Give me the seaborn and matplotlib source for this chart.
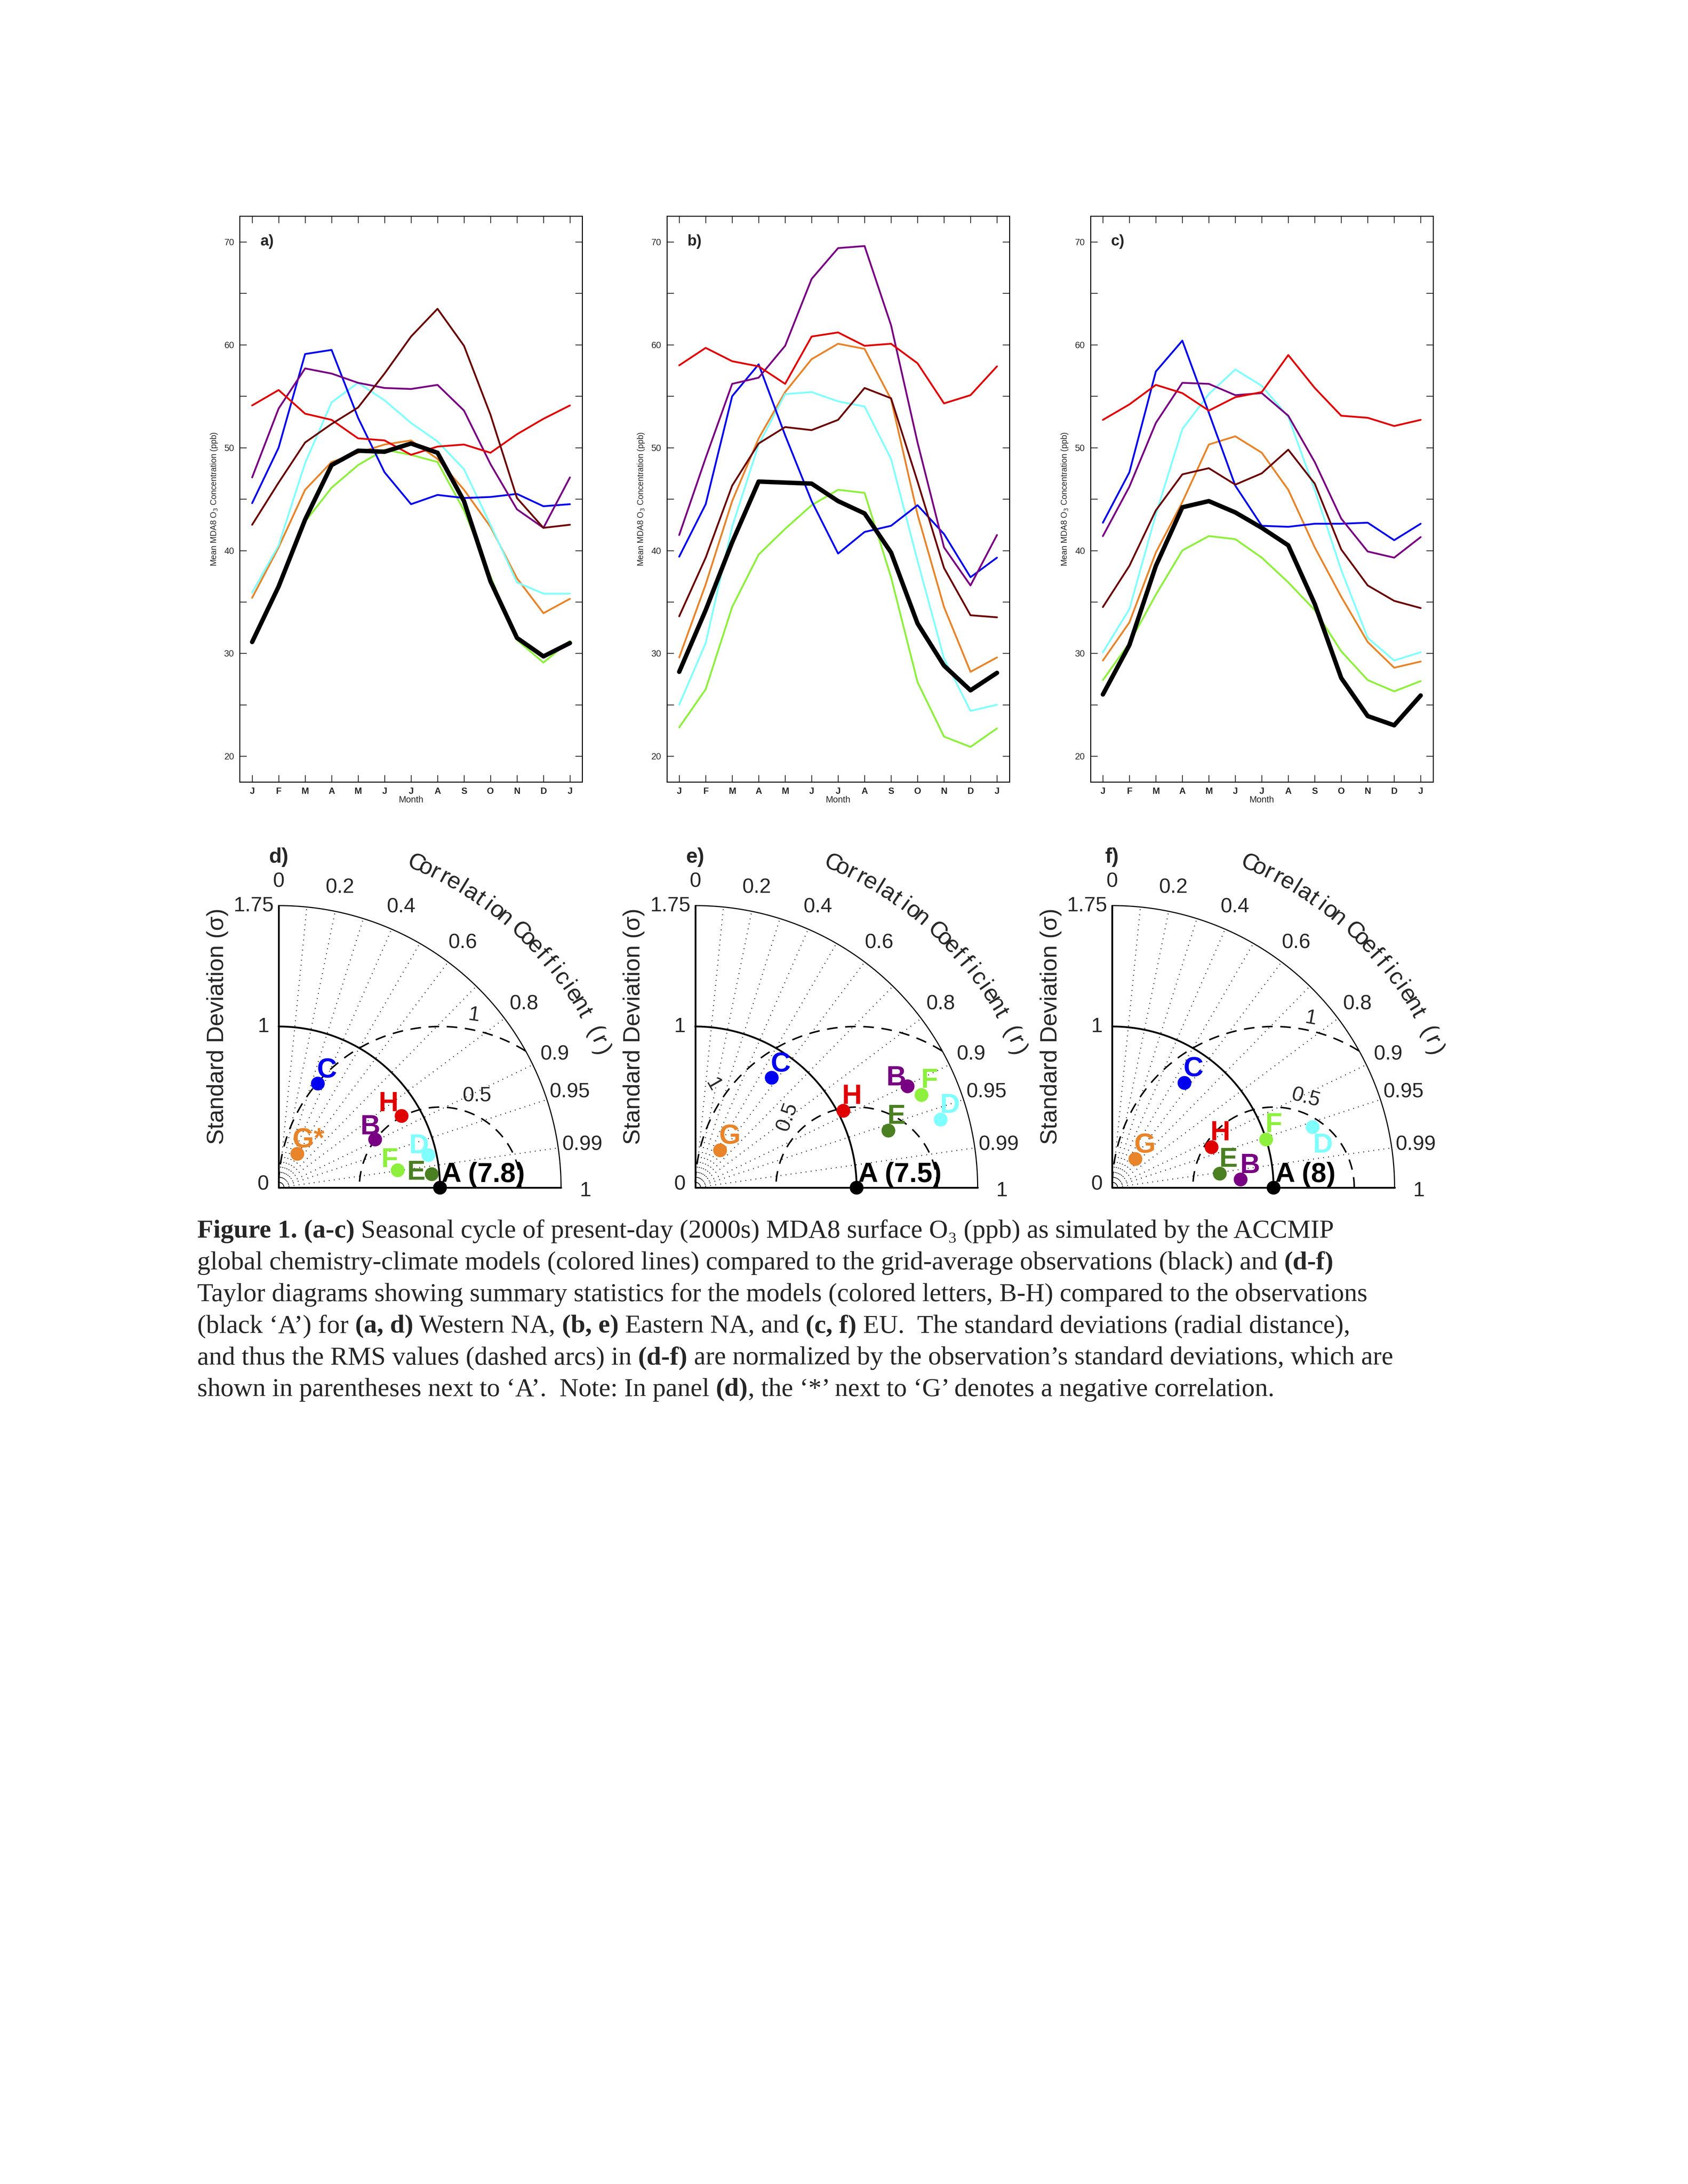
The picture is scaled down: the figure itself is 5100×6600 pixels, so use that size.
import numpy as np
import pandas as pd
import matplotlib
matplotlib.use("Agg")
import matplotlib.pyplot as plt
import seaborn as sns

sns.set_style("white")
plt.rcParams['font.family'] = ['Liberation Sans', 'DejaVu Sans']

months = ["J", "F", "M", "A", "M", "J", "J", "A", "S", "O", "N", "D", "J"]
models = ["OBS", "F", "G", "D", "C", "B", "H", "E"]
colors = {"OBS": "black", "F": "#8CF03C", "G": "#E8842A", "D": "#80FFFF",
          "C": "#0000F0", "B": "#780082", "H": "#E00000", "E": "#6A0000"}

west = {
    "OBS": [31.1, 36.5, 43, 48.3, 49.7, 49.6, 50.4, 49.5, 44.8, 37, 31.5, 29.7, 31],
    "F": [31.3, 36.2, 42.8, 46.1, 48.3, 49.8, 49.3, 48.6, 43.9, 37.5, 31.3, 29.1, 31.2],
    "G": [35.4, 40.3, 45.9, 48.6, 49.5, 50.3, 50.7, 48.9, 45.9, 42.3, 37.3, 33.9, 35.3],
    "D": [35.9, 40.5, 48.5, 54.4, 56.3, 54.6, 52.4, 50.6, 47.9, 42.5, 36.9, 35.8, 35.8],
    "C": [44.6, 50, 59.1, 59.5, 52.9, 47.6, 44.5, 45.4, 45.1, 45.2, 45.5, 44.3, 44.5],
    "B": [47.1, 53.8, 57.7, 57.2, 56.3, 55.8, 55.7, 56.1, 53.6, 48.4, 44, 42.2, 47.1],
    "H": [54.1, 55.6, 53.3, 52.7, 50.9, 50.7, 49.3, 50.1, 50.3, 49.5, 51.3, 52.8, 54.1],
    "E": [42.5, 46.6, 50.5, 52.3, 53.9, 57.2, 60.8, 63.5, 59.9, 53.2, 45.1, 42.2, 42.5],
}
east = {
    "OBS": [28.2, 34.2, 40.8, 46.7, 46.6, 46.5, 44.8, 43.6, 39.8, 32.9, 28.8, 26.4, 28.1],
    "F": [22.8, 26.5, 34.5, 39.6, 42.1, 44.4, 45.9, 45.6, 37.4, 27.2, 21.9, 20.9, 22.7],
    "G": [29.6, 36.7, 44.8, 50.9, 55.4, 58.6, 60.1, 59.6, 54.7, 43.5, 34.5, 28.2, 29.6],
    "D": [25, 31, 42.3, 50.3, 55.2, 55.4, 54.5, 54, 48.9, 39, 29.5, 24.4, 25],
    "C": [39.4, 44.5, 55, 58.1, 51.2, 44.8, 39.7, 41.8, 42.4, 44.4, 41.6, 37.4, 39.3],
    "B": [41.5, 49, 56.2, 56.8, 59.9, 66.4, 69.4, 69.6, 61.9, 50.5, 40.3, 36.6, 41.5],
    "H": [58, 59.7, 58.4, 57.9, 56.2, 60.8, 61.2, 59.9, 60.1, 58.2, 54.3, 55.1, 57.9],
    "E": [33.6, 39.3, 46.3, 50.4, 52, 51.7, 52.7, 55.8, 54.8, 46.7, 38.3, 33.7, 33.5],
}
europe = {
    "OBS": [26, 30.8, 38.5, 44.2, 44.8, 43.7, 42.2, 40.5, 34.8, 27.6, 23.9, 23, 25.9],
    "F": [27.4, 31, 35.7, 40, 41.4, 41.1, 39.3, 36.9, 34.2, 30.2, 27.4, 26.3, 27.3],
    "G": [29.3, 33, 39.8, 44.7, 50.3, 51.1, 49.5, 45.9, 40.3, 35.5, 31.1, 28.6, 29.2],
    "D": [30.1, 34.3, 43.5, 51.8, 55.2, 57.6, 56, 53, 45.9, 38.1, 31.5, 29.3, 30.1],
    "C": [42.7, 47.6, 57.4, 60.4, 53.4, 46.3, 42.4, 42.3, 42.6, 42.6, 42.7, 41, 42.6],
    "B": [41.4, 46.2, 52.4, 56.3, 56.2, 55.1, 55.3, 53.1, 48.6, 43.1, 39.9, 39.3, 41.3],
    "H": [52.7, 54.2, 56.1, 55.3, 53.6, 54.9, 55.4, 59, 55.8, 53.1, 52.9, 52.1, 52.7],
    "E": [34.5, 38.5, 43.9, 47.4, 48, 46.4, 47.5, 49.8, 46.5, 40.1, 36.6, 35.1, 34.4],
}

# Taylor diagram points: normalized (x, y) = (sigma*r, sigma*sqrt(1-r^2))
taylor_letters = ["B", "C", "D", "E", "F", "G", "H"]
taylor_colors = {"A": "black", "B": "#780082", "C": "#0000F0", "D": "#80FFFF",
                 "E": "#4A7F22", "F": "#8CF03C", "G": "#E8842A", "H": "#E00000"}
d_x = [0.598, 0.243, 0.928, 0.949, 0.738, 0.116, 0.762]
d_y = [0.299, 0.646, 0.202, 0.084, 0.108, 0.210, 0.445]
e_x = [1.316, 0.474, 1.521, 1.197, 1.402, 0.154, 0.918]
e_y = [0.629, 0.682, 0.422, 0.354, 0.575, 0.232, 0.477]
f_x = [0.796, 0.448, 1.242, 0.667, 0.954, 0.144, 0.616]
f_y = [0.051, 0.650, 0.376, 0.087, 0.299, 0.178, 0.251]
obs_sd = ["7.8", "7.5", "8"]
g_suffix = ["*", "", ""]

fig = plt.figure(figsize=(17, 22), dpi=300)

# ---------------- line panels ----------------
line_lefts = [0.142, 0.395, 0.646]
for i, (data, lab) in enumerate(zip([west, east, europe], ["a)", "b)", "c)"])):
    ax = fig.add_axes([line_lefts[i], 0.642, 0.203, 0.259])
    rows = []
    for m in models:
        for k, v in enumerate(data[m]):
            rows.append({"month": k, "value": v, "model": m})
    df = pd.DataFrame(rows)
    sns.lineplot(data=df[df.model != "OBS"], x="month", y="value", hue="model",
                 palette={m: colors[m] for m in models if m != "OBS"},
                 estimator=None, sort=False, linewidth=1.3, legend=False, ax=ax)
    sns.lineplot(data=df[df.model == "OBS"], x="month", y="value", color="black",
                 estimator=None, sort=False, linewidth=3.2, legend=False, ax=ax)
    ax.set_xlim(-0.47, 12.47)
    ax.set_ylim(17.5, 72.5)
    ax.set_xticks(range(13))
    ax.set_xticklabels(months, fontsize=6.5, fontweight="bold")
    ax.set_yticks([20, 30, 40, 50, 60, 70])
    ax.set_yticks([25, 35, 45, 55, 65], minor=True)
    ax.set_yticklabels(["20", "30", "40", "50", "60", "70"], fontsize=6.5)
    ax.tick_params(axis="both", which="both", direction="in", top=True, right=True,
                   length=5, width=0.6, bottom=True, left=True, pad=4)
    ax.set_xlabel("Month", fontsize=6.5, labelpad=0)
    ax.set_ylabel("Mean MDA8 O$_3$ Concentration (ppb)", fontsize=6)
    for s in ax.spines.values():
        s.set_linewidth(0.7)
        s.set_color("black")
    ax.text(0.06, 0.955, lab, transform=ax.transAxes, fontsize=11,
            fontweight="bold", va="center", ha="left")

# ---------------- Taylor diagrams ----------------
t_lefts = [0.1077, 0.3545, 0.6015]
corr_ticks = [0.0, 0.1, 0.2, 0.3, 0.4, 0.5, 0.6, 0.7, 0.8, 0.9, 0.95, 0.99]
corr_labels = [0.0, 0.2, 0.4, 0.6, 0.8, 0.9, 0.95, 0.99]
offsets = [
    {"B": (-0.03, 0.077), "C": (0.056, 0.084), "D": (-0.06, 0.058), "E": (-0.097, 0.01),
     "F": (-0.05, 0.065), "G": (0.07, 0.087), "H": (-0.082, 0.075)},
    {"B": (-0.072, 0.05), "C": (0.056, 0.084), "D": (0.056, 0.087), "E": (0.05, 0.087),
     "F": (0.048, 0.09), "G": (0.06, 0.087), "H": (0.053, 0.087)},
    {"B": (0.058, 0.084), "C": (0.056, 0.087), "D": (0.063, -0.113), "E": (0.053, 0.087),
     "F": (0.046, 0.091), "G": (0.058, 0.085), "H": (0.053, 0.088)},
]
rms_label_pos = [
    [(1.21, 1.07, -8, "1"), (1.23, 0.57, 0, "0.5")],
    [(0.11, 0.64, -60, "1"), (0.57, 0.44, 70, "0.5")],
    [(1.23, 1.05, -10, "1"), (1.2, 0.556, -15, "0.5")],
]
panel_letters = ["d)", "e)", "f)"]
tx = [d_x, e_x, f_x]
ty = [d_y, e_y, f_y]

for i in range(3):
    ax = fig.add_axes([t_lefts[i], 0.4488, 0.2677, 0.155])
    th = np.linspace(0, np.pi / 2, 400)
    ax.plot(1.75 * np.cos(th), 1.75 * np.sin(th), color="black", lw=0.8)
    ax.plot(np.cos(th), np.sin(th), color="black", lw=1.3)
    ax.plot([0, 0], [0, 1.75], color="black", lw=1.3)
    ax.plot([0, 1.75], [0, 0], color="black", lw=1.3)
    for c in corr_ticks[1:]:
        a = np.arccos(c)
        ax.plot([0, 1.75 * np.cos(a)], [0, 1.75 * np.sin(a)], color="black",
                lw=0.8, ls=(0, (0.6, 4)))
    for c in corr_labels:
        a = np.arccos(c)
        ax.text(1.9 * np.cos(a), 1.9 * np.sin(a), f"{c:g}", fontsize=15,
                ha="center", va="center")
    ax.text(1.9, -0.02, "1", fontsize=15, ha="center", va="center")
    ax.text(-0.03, 1.75, "1.75", fontsize=15, ha="right", va="center")
    ax.text(-0.06, 1.0, "1", fontsize=15, ha="right", va="center")
    ax.text(-0.06, 0.02, "0", fontsize=15, ha="right", va="center")
    ax.text(-0.38, 1.0, "Standard Deviation (σ)", fontsize=17, rotation=90,
            ha="center", va="center")
    for rr in [0.5, 1.0]:
        t = np.linspace(0, np.pi, 600)
        xs, ys = 1 + rr * np.cos(t), rr * np.sin(t)
        ok = (xs ** 2 + ys ** 2 <= 1.75 ** 2) & (xs >= 0)
        ax.plot(xs[ok], ys[ok], color="black", lw=1.1, ls=(0, (7, 5)))
    for (lx, ly, rot, s) in rms_label_pos[i]:
        ax.text(lx, ly, s, fontsize=15, rotation=rot, ha="center", va="center")
    title = "Correlation Coefficient (r)"
    angs = np.linspace(np.deg2rad(67), np.deg2rad(23), len(title))
    for ch, a in zip(title, angs):
        ax.text(2.18 * np.cos(a), 2.18 * np.sin(a), ch, fontsize=17,
                rotation=np.rad2deg(a) - 90, ha="center", va="center")
    ax.text(0.0, 2.05, panel_letters[i], fontsize=15, fontweight="bold",
            ha="center", va="center")
    pts = pd.DataFrame({"x": tx[i], "y": ty[i], "model": taylor_letters})
    sns.scatterplot(data=pts, x="x", y="y", hue="model", palette=taylor_colors,
                    s=100, edgecolor="none", legend=False, ax=ax, zorder=5)
    obs = pd.DataFrame({"x": [1.0], "y": [0.0]})
    sns.scatterplot(data=obs, x="x", y="y", color="black", s=100, edgecolor="none",
                    legend=False, ax=ax, zorder=6, clip_on=False)
    ax.set_xlim(-0.6, 2.2)
    ax.set_ylim(-0.1, 2.0)
    ax.axis("off")
    for m, x0, y0 in zip(taylor_letters, tx[i], ty[i]):
        dx, dy = offsets[i][m]
        lab = m + (g_suffix[i] if m == "G" else "")
        ax.text(x0 + dx, y0 + dy, lab, color=taylor_colors[m], fontsize=20,
                fontweight="bold", ha="center", va="center")
    ax.text(1.01, 0.08, f"A ({obs_sd[i]})", color="black", fontsize=20,
            fontweight="bold", ha="left", va="center")

# ---------------- caption ----------------
serif = ['Liberation Serif', 'DejaVu Serif']
lines = [
    [("Figure 1. (a-c)", True), (" Seasonal cycle of present-day (2000s) MDA8 surface O₃ (ppb) as simulated by the ACCMIP", False)],
    [("global chemistry-climate models (colored lines) compared to the grid-average observations (black) and ", False), ("(d-f)", True)],
    [("Taylor diagrams showing summary statistics for the models (colored letters, B-H) compared to the observations", False)],
    [("(black ‘A’) for ", False), ("(a, d)", True), (" Western NA, ", False), ("(b, e)", True),
     (" Eastern NA, and ", False), ("(c, f)", True), (" EU.  The standard deviations (radial distance),", False)],
    [("and thus the RMS values (dashed arcs) in ", False), ("(d-f)", True),
     (" are normalized by the observation’s standard deviations, which are", False)],
    [("shown in parentheses next to ‘A’.  Note: In panel ", False), ("(d)", True),
     (", the ‘*’ next to ‘G’ denotes a negative correlation.", False)],
]
renderer = fig.canvas.get_renderer()
W = fig.get_figwidth() * fig.dpi
y0 = 1 - 893 / 1584
for li, segs in enumerate(lines):
    x = 143 / 1224
    y = y0 - li * (23.0 / 1584)
    for txt, bold in segs:
        t = fig.text(x, y, txt, fontsize=19, family=serif,
                     fontweight="bold" if bold else "normal", va="center", ha="left")
        x += t.get_window_extent(renderer).width / W

fig.savefig("out.png", dpi=300, facecolor="white")
